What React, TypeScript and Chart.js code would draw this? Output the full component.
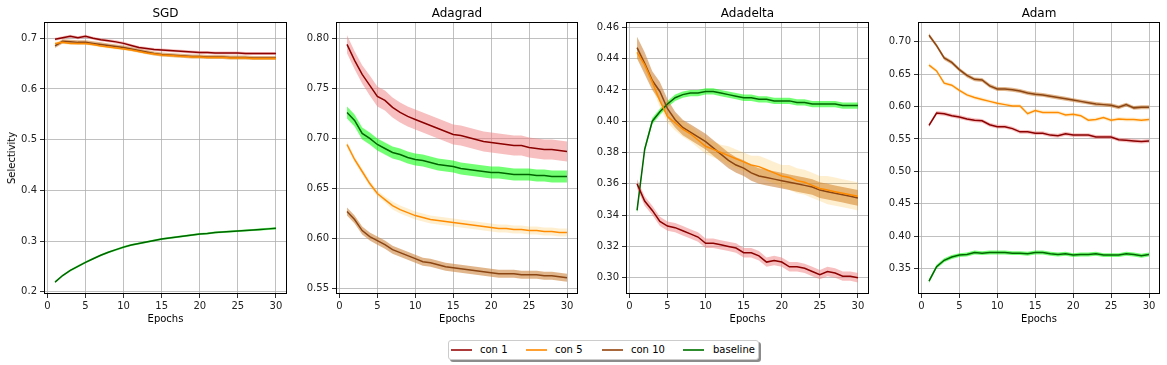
import React, { useEffect, useRef } from "react";
import { Chart, registerables } from "chart.js";

Chart.register(...registerables);

const EPOCHS = [1, 2, 3, 4, 5, 6, 7, 8, 9, 10, 11, 12, 13, 14, 15, 16, 17, 18, 19, 20, 21, 22, 23, 24, 25, 26, 27, 28, 29, 30];
const X_TICKS = [0, 5, 10, 15, 20, 25, 30];

// ---- SGD ----
const SGD_CON1 = [0.698, 0.701, 0.704, 0.701, 0.704, 0.700, 0.697, 0.695, 0.693, 0.690, 0.686, 0.682, 0.680, 0.678, 0.677, 0.676, 0.675, 0.674, 0.673, 0.672, 0.672, 0.671, 0.671, 0.671, 0.671, 0.670, 0.670, 0.670, 0.670, 0.670];
const SGD_CON1_STD = [0.003, 0.003, 0.003, 0.003, 0.003, 0.003, 0.003, 0.003, 0.003, 0.003, 0.003, 0.003, 0.003, 0.003, 0.003, 0.003, 0.003, 0.003, 0.003, 0.003, 0.003, 0.003, 0.003, 0.003, 0.003, 0.003, 0.003, 0.003, 0.003, 0.003];
const SGD_CON5 = [0.690, 0.692, 0.690, 0.690, 0.690, 0.688, 0.685, 0.683, 0.681, 0.679, 0.677, 0.674, 0.671, 0.669, 0.667, 0.666, 0.665, 0.664, 0.663, 0.663, 0.662, 0.662, 0.662, 0.661, 0.661, 0.661, 0.660, 0.660, 0.660, 0.660];
const SGD_CON5_STD = [0.003, 0.003, 0.003, 0.003, 0.003, 0.003, 0.003, 0.003, 0.003, 0.003, 0.003, 0.003, 0.003, 0.003, 0.003, 0.003, 0.003, 0.003, 0.003, 0.003, 0.003, 0.003, 0.003, 0.003, 0.003, 0.003, 0.003, 0.003, 0.003, 0.003];
const SGD_CON10 = [0.685, 0.694, 0.693, 0.692, 0.692, 0.690, 0.688, 0.686, 0.684, 0.682, 0.679, 0.676, 0.673, 0.670, 0.668, 0.667, 0.666, 0.665, 0.664, 0.664, 0.663, 0.663, 0.663, 0.662, 0.662, 0.662, 0.661, 0.661, 0.661, 0.661];
const SGD_CON10_STD = [0.004, 0.004, 0.004, 0.004, 0.004, 0.004, 0.004, 0.004, 0.004, 0.004, 0.004, 0.004, 0.004, 0.004, 0.004, 0.004, 0.004, 0.004, 0.004, 0.004, 0.004, 0.004, 0.004, 0.004, 0.004, 0.004, 0.004, 0.004, 0.004, 0.004];
const SGD_BASE = [0.219, 0.232, 0.242, 0.250, 0.258, 0.265, 0.272, 0.278, 0.283, 0.288, 0.292, 0.295, 0.298, 0.301, 0.304, 0.306, 0.308, 0.310, 0.312, 0.314, 0.315, 0.317, 0.318, 0.319, 0.320, 0.321, 0.322, 0.323, 0.324, 0.325];
const SGD_BASE_STD = [0.002, 0.002, 0.002, 0.002, 0.002, 0.002, 0.002, 0.002, 0.002, 0.002, 0.002, 0.002, 0.002, 0.002, 0.002, 0.002, 0.002, 0.002, 0.002, 0.002, 0.002, 0.002, 0.002, 0.002, 0.002, 0.002, 0.002, 0.002, 0.002, 0.002];

// ---- Adagrad ----
const ADAGRAD_CON1 = [0.794, 0.778, 0.764, 0.753, 0.742, 0.738, 0.731, 0.726, 0.722, 0.719, 0.716, 0.713, 0.710, 0.707, 0.704, 0.703, 0.701, 0.699, 0.697, 0.696, 0.695, 0.694, 0.693, 0.693, 0.691, 0.690, 0.689, 0.689, 0.688, 0.687];
const ADAGRAD_CON1_STD = [0.009, 0.009, 0.009, 0.010, 0.010, 0.010, 0.010, 0.010, 0.010, 0.010, 0.010, 0.010, 0.010, 0.010, 0.010, 0.010, 0.010, 0.010, 0.010, 0.010, 0.010, 0.010, 0.010, 0.010, 0.010, 0.010, 0.010, 0.010, 0.010, 0.010];
const ADAGRAD_CON5 = [0.694, 0.679, 0.667, 0.655, 0.645, 0.639, 0.633, 0.629, 0.626, 0.623, 0.621, 0.619, 0.618, 0.617, 0.616, 0.615, 0.614, 0.613, 0.612, 0.611, 0.610, 0.610, 0.609, 0.609, 0.608, 0.608, 0.607, 0.607, 0.606, 0.606];
const ADAGRAD_CON5_STD = [0.003, 0.003, 0.003, 0.003, 0.003, 0.003, 0.004, 0.004, 0.004, 0.004, 0.004, 0.004, 0.004, 0.004, 0.004, 0.004, 0.004, 0.004, 0.004, 0.004, 0.004, 0.004, 0.004, 0.004, 0.004, 0.004, 0.004, 0.004, 0.004, 0.004];
const ADAGRAD_CON10 = [0.627, 0.619, 0.608, 0.602, 0.598, 0.594, 0.589, 0.586, 0.583, 0.580, 0.577, 0.576, 0.574, 0.572, 0.571, 0.570, 0.569, 0.568, 0.567, 0.566, 0.565, 0.565, 0.565, 0.564, 0.564, 0.564, 0.563, 0.563, 0.562, 0.561];
const ADAGRAD_CON10_STD = [0.004, 0.004, 0.004, 0.004, 0.004, 0.004, 0.004, 0.004, 0.004, 0.004, 0.004, 0.004, 0.004, 0.004, 0.004, 0.004, 0.004, 0.004, 0.004, 0.004, 0.004, 0.004, 0.004, 0.004, 0.004, 0.004, 0.004, 0.004, 0.004, 0.004];
const ADAGRAD_BASE = [0.726, 0.718, 0.705, 0.700, 0.694, 0.690, 0.686, 0.684, 0.681, 0.679, 0.678, 0.676, 0.674, 0.673, 0.672, 0.670, 0.669, 0.668, 0.667, 0.666, 0.666, 0.665, 0.664, 0.664, 0.664, 0.663, 0.663, 0.662, 0.662, 0.662];
const ADAGRAD_BASE_STD = [0.006, 0.006, 0.006, 0.006, 0.006, 0.006, 0.006, 0.006, 0.006, 0.006, 0.006, 0.006, 0.006, 0.006, 0.006, 0.006, 0.006, 0.006, 0.006, 0.006, 0.006, 0.006, 0.006, 0.006, 0.006, 0.006, 0.006, 0.006, 0.006, 0.006];

// ---- Adadelta ----
const ADADELTA_CON1 = [0.360, 0.349, 0.343, 0.336, 0.333, 0.332, 0.330, 0.328, 0.326, 0.322, 0.322, 0.321, 0.320, 0.319, 0.316, 0.316, 0.314, 0.310, 0.311, 0.310, 0.307, 0.307, 0.306, 0.304, 0.302, 0.304, 0.303, 0.301, 0.301, 0.300];
const ADADELTA_CON1_STD = [0.003, 0.003, 0.003, 0.003, 0.003, 0.003, 0.003, 0.003, 0.003, 0.003, 0.003, 0.003, 0.003, 0.003, 0.003, 0.003, 0.003, 0.003, 0.003, 0.003, 0.003, 0.003, 0.003, 0.003, 0.003, 0.003, 0.003, 0.003, 0.003, 0.003];
const ADADELTA_CON5 = [0.444, 0.436, 0.425, 0.413, 0.403, 0.399, 0.395, 0.392, 0.388, 0.384, 0.382, 0.380, 0.378, 0.376, 0.374, 0.372, 0.371, 0.369, 0.367, 0.365, 0.364, 0.362, 0.361, 0.359, 0.357, 0.356, 0.355, 0.354, 0.353, 0.352];
const ADADELTA_CON5_STD = [0.004, 0.004, 0.004, 0.004, 0.004, 0.005, 0.005, 0.005, 0.005, 0.005, 0.005, 0.005, 0.006, 0.006, 0.006, 0.006, 0.007, 0.007, 0.007, 0.007, 0.008, 0.008, 0.008, 0.008, 0.008, 0.009, 0.009, 0.009, 0.009, 0.009];
const ADADELTA_CON10 = [0.447, 0.437, 0.426, 0.419, 0.408, 0.401, 0.396, 0.393, 0.390, 0.387, 0.383, 0.379, 0.375, 0.372, 0.370, 0.367, 0.365, 0.364, 0.363, 0.362, 0.361, 0.360, 0.359, 0.358, 0.356, 0.355, 0.354, 0.353, 0.352, 0.351];
const ADADELTA_CON10_STD = [0.007, 0.007, 0.006, 0.006, 0.006, 0.005, 0.005, 0.005, 0.005, 0.005, 0.005, 0.005, 0.005, 0.005, 0.005, 0.005, 0.005, 0.005, 0.005, 0.005, 0.005, 0.005, 0.005, 0.005, 0.005, 0.005, 0.005, 0.005, 0.005, 0.005];
const ADADELTA_BASE = [0.343, 0.382, 0.400, 0.406, 0.411, 0.415, 0.417, 0.418, 0.418, 0.419, 0.419, 0.418, 0.417, 0.416, 0.415, 0.415, 0.414, 0.414, 0.413, 0.413, 0.413, 0.412, 0.412, 0.411, 0.411, 0.411, 0.411, 0.410, 0.410, 0.410];
const ADADELTA_BASE_STD = [0.002, 0.002, 0.002, 0.002, 0.002, 0.002, 0.002, 0.002, 0.002, 0.002, 0.002, 0.002, 0.002, 0.002, 0.002, 0.002, 0.002, 0.002, 0.002, 0.002, 0.002, 0.002, 0.002, 0.002, 0.002, 0.002, 0.002, 0.002, 0.002, 0.002];

// ---- Adam ----
const ADAM_CON1 = [0.571, 0.590, 0.589, 0.586, 0.584, 0.581, 0.579, 0.578, 0.572, 0.569, 0.569, 0.566, 0.561, 0.561, 0.559, 0.559, 0.556, 0.555, 0.558, 0.556, 0.556, 0.556, 0.553, 0.553, 0.553, 0.549, 0.548, 0.547, 0.546, 0.547];
const ADAM_CON1_STD = [0.003, 0.003, 0.003, 0.003, 0.003, 0.003, 0.003, 0.003, 0.003, 0.003, 0.003, 0.003, 0.003, 0.003, 0.003, 0.003, 0.003, 0.003, 0.003, 0.003, 0.003, 0.003, 0.003, 0.003, 0.003, 0.003, 0.003, 0.003, 0.003, 0.003];
const ADAM_CON5 = [0.664, 0.655, 0.636, 0.633, 0.625, 0.618, 0.614, 0.611, 0.608, 0.605, 0.603, 0.601, 0.601, 0.589, 0.594, 0.591, 0.591, 0.591, 0.587, 0.588, 0.586, 0.579, 0.580, 0.583, 0.579, 0.581, 0.580, 0.580, 0.579, 0.580];
const ADAM_CON5_STD = [0.003, 0.003, 0.003, 0.003, 0.003, 0.003, 0.003, 0.003, 0.003, 0.003, 0.003, 0.003, 0.003, 0.003, 0.003, 0.003, 0.003, 0.003, 0.003, 0.003, 0.003, 0.003, 0.003, 0.003, 0.003, 0.003, 0.003, 0.003, 0.003, 0.003];
const ADAM_CON10 = [0.710, 0.694, 0.675, 0.668, 0.657, 0.648, 0.642, 0.641, 0.632, 0.627, 0.627, 0.626, 0.624, 0.621, 0.619, 0.618, 0.616, 0.614, 0.612, 0.610, 0.608, 0.606, 0.604, 0.603, 0.602, 0.599, 0.603, 0.598, 0.599, 0.599];
const ADAM_CON10_STD = [0.003, 0.003, 0.003, 0.003, 0.003, 0.003, 0.003, 0.003, 0.003, 0.003, 0.003, 0.003, 0.003, 0.003, 0.003, 0.003, 0.003, 0.003, 0.003, 0.003, 0.003, 0.003, 0.003, 0.003, 0.003, 0.003, 0.003, 0.003, 0.003, 0.003];
const ADAM_BASE = [0.331, 0.353, 0.363, 0.368, 0.371, 0.372, 0.375, 0.374, 0.375, 0.375, 0.375, 0.374, 0.374, 0.373, 0.375, 0.375, 0.373, 0.372, 0.373, 0.371, 0.372, 0.372, 0.373, 0.371, 0.371, 0.371, 0.373, 0.372, 0.370, 0.372];
const ADAM_BASE_STD = [0.003, 0.003, 0.003, 0.003, 0.003, 0.003, 0.003, 0.003, 0.003, 0.003, 0.003, 0.003, 0.003, 0.003, 0.003, 0.003, 0.003, 0.003, 0.003, 0.003, 0.003, 0.003, 0.003, 0.003, 0.003, 0.003, 0.003, 0.003, 0.003, 0.003];

const SGD_Y_TICKS = [0.2, 0.3, 0.4, 0.5, 0.6, 0.7];
const ADAGRAD_Y_TICKS = [0.55, 0.6, 0.65, 0.7, 0.75, 0.8];
const ADADELTA_Y_TICKS = [0.3, 0.32, 0.34, 0.36, 0.38, 0.4, 0.42, 0.44, 0.46];
const ADAM_Y_TICKS = [0.35, 0.4, 0.45, 0.5, 0.55, 0.6, 0.65, 0.7];

const SERIES_LABELS = ["con 1", "con 5", "con 10", "baseline"];

const LINE_COLORS = ["#8b0000", "#ff8c00", "#8b4513", "#006400"];
const BAND_COLORS = ["rgba(240,128,128,0.5)", "rgba(255,165,0,0.18)", "rgba(205,133,63,0.6)", "rgba(0,255,0,0.55)"];
const LEGEND_COLORS = ["#ad3a3a", "#ffa033", "#a8683c", "#2e8b2e"];

const FONT = "'DejaVu Sans', sans-serif";

type Panel = {
  title: string;
  left: number;
  right: number;
  yMin: number;
  yMax: number;
  yTicks: number[];
  decimals: number;
  means: number[][];
  stds: number[][];
};

const AX_TOP = 22;
const AX_BOTTOM = 294;
const Y_AXIS_W = 40;
const X_AXIS_H = 20;
const PAD_TOP = 10;
const PAD_RIGHT = 10;

const PANELS: Panel[] = [
  { title: "SGD", left: 44, right: 287, yMin: 0.1955, yMax: 0.7322, yTicks: SGD_Y_TICKS, decimals: 1,
    means: [SGD_CON1, SGD_CON5, SGD_CON10, SGD_BASE], stds: [SGD_CON1_STD, SGD_CON5_STD, SGD_CON10_STD, SGD_BASE_STD] },
  { title: "Adagrad", left: 336, right: 578, yMin: 0.5447, yMax: 0.8163, yTicks: ADAGRAD_Y_TICKS, decimals: 2,
    means: [ADAGRAD_CON1, ADAGRAD_CON5, ADAGRAD_CON10, ADAGRAD_BASE], stds: [ADAGRAD_CON1_STD, ADAGRAD_CON5_STD, ADAGRAD_CON10_STD, ADAGRAD_BASE_STD] },
  { title: "Adadelta", left: 626, right: 869, yMin: 0.2896, yMax: 0.4634, yTicks: ADADELTA_Y_TICKS, decimals: 2,
    means: [ADADELTA_CON1, ADADELTA_CON5, ADADELTA_CON10, ADADELTA_BASE], stds: [ADADELTA_CON1_STD, ADADELTA_CON5_STD, ADADELTA_CON10_STD, ADADELTA_BASE_STD] },
  { title: "Adam", left: 918, right: 1160, yMin: 0.311, yMax: 0.7304, yTicks: ADAM_Y_TICKS, decimals: 2,
    means: [ADAM_CON1, ADAM_CON5, ADAM_CON10, ADAM_BASE], stds: [ADAM_CON1_STD, ADAM_CON5_STD, ADAM_CON10_STD, ADAM_BASE_STD] },
];

const framePlugin = {
  id: "frame",
  afterDraw(chart: any) {
    const { ctx, chartArea: a } = chart;
    ctx.save();
    ctx.strokeStyle = "#000";
    ctx.lineWidth = 1;
    ctx.strokeRect(Math.round(a.left) + 0.5, Math.round(a.top) + 0.5, Math.round(a.right - a.left) - 1, Math.round(a.bottom - a.top) - 1);
    ctx.restore();
  },
};

function PanelChart({ p }: { p: Panel }) {
  const ref = useRef<HTMLCanvasElement>(null);
  const width = Y_AXIS_W + (p.right - p.left) + PAD_RIGHT;
  const height = PAD_TOP + (AX_BOTTOM - AX_TOP) + X_AXIS_H;

  useEffect(() => {
    if (!ref.current) return;
    const datasets: any[] = [];
    p.means.forEach((mean, si) => {
      const std = p.stds[si];
      const lowerIdx = datasets.length;
      datasets.push({
        data: EPOCHS.map((x, i) => ({ x, y: mean[i] - std[i] })),
        borderWidth: 0, pointRadius: 0, fill: false, order: 2,
        borderColor: "rgba(0,0,0,0)",
      });
      datasets.push({
        data: EPOCHS.map((x, i) => ({ x, y: mean[i] + std[i] })),
        borderWidth: 0, pointRadius: 0, fill: lowerIdx, order: 2,
        borderColor: "rgba(0,0,0,0)", backgroundColor: BAND_COLORS[si],
      });
    });
    p.means.forEach((mean, si) => {
      datasets.push({
        label: SERIES_LABELS[si],
        data: EPOCHS.map((x, i) => ({ x, y: mean[i] })),
        borderColor: LINE_COLORS[si], borderWidth: 1.5, pointRadius: 0, fill: false, order: 1,
      });
    });

    const chart = new Chart(ref.current, {
      type: "line",
      data: { datasets },
      plugins: [framePlugin],
      options: {
        animation: false,
        responsive: false,
        devicePixelRatio: 1,
        layout: { padding: { top: PAD_TOP, right: PAD_RIGHT, left: 0, bottom: 0 } },
        plugins: { legend: { display: false }, tooltip: { enabled: false }, title: { display: false } },
        scales: {
          x: {
            type: "linear", min: -0.45, max: 31.45,
            afterBuildTicks: (s: any) => { s.ticks = X_TICKS.map((v) => ({ value: v })); },
            afterFit: (s: any) => { s.height = X_AXIS_H; },
            ticks: { color: "#222", font: { family: FONT, size: 10 }, padding: 2, maxRotation: 0, callback: (v: any) => String(v) },
            grid: { color: "#b0b0b0", lineWidth: 0.8, tickColor: "#000", tickLength: 4, drawTicks: true },
            border: { display: false },
          },
          y: {
            type: "linear", min: p.yMin, max: p.yMax,
            afterBuildTicks: (s: any) => { s.ticks = p.yTicks.map((v) => ({ value: v })); },
            afterFit: (s: any) => { s.width = Y_AXIS_W; },
            ticks: { color: "#222", font: { family: FONT, size: 10 }, padding: 3, callback: (v: any) => Number(v).toFixed(p.decimals) },
            grid: { color: "#b0b0b0", lineWidth: 0.8, tickColor: "#000", tickLength: 4, drawTicks: true },
            border: { display: false },
          },
        },
      } as any,
    });
    return () => chart.destroy();
  }, []);

  return (
    <>
      <canvas
        ref={ref}
        width={width}
        height={height}
        style={{ position: "absolute", left: p.left - Y_AXIS_W, top: AX_TOP - PAD_TOP, width, height }}
      />
      <div style={{ position: "absolute", left: p.left, width: p.right - p.left, top: 6, textAlign: "center", fontFamily: FONT, fontSize: 12, lineHeight: "14px", color: "#000" }}>
        {p.title}
      </div>
      <div style={{ position: "absolute", left: p.left, width: p.right - p.left, top: 313, textAlign: "center", fontFamily: FONT, fontSize: 10, lineHeight: "12px", color: "#000" }}>
        Epochs
      </div>
    </>
  );
}

function Legend() {
  return (
    <div style={{
      position: "absolute", left: 448, top: 340, width: 309, height: 18,
      border: "1px solid #cccccc", borderRadius: 3, background: "#fff",
      boxShadow: "2px 2px 0 rgba(0,0,0,0.45)", fontFamily: FONT, fontSize: 10, color: "#000",
    }}>
      {SERIES_LABELS.map((lab, i) => {
        const lineX = [2, 77, 153, 234][i];
        const textX = [31, 106, 182, 264][i];
        return (
          <React.Fragment key={lab}>
            <div style={{ position: "absolute", left: lineX, top: 8, width: 21, height: 2, background: LEGEND_COLORS[i] }} />
            <div style={{ position: "absolute", left: textX, top: 3, lineHeight: "12px", whiteSpace: "nowrap" }}>{lab}</div>
          </React.Fragment>
        );
      })}
    </div>
  );
}

export default function App() {
  return (
    <div style={{ position: "absolute", left: 0, top: 0, width: 1167, height: 365, background: "#fff", overflow: "hidden" }}>
      {PANELS.map((p) => (
        <PanelChart key={p.title} p={p} />
      ))}
      <div style={{
        position: "absolute", left: 12, top: 158, transform: "translate(-50%, -50%) rotate(-90deg)",
        fontFamily: FONT, fontSize: 10, lineHeight: "12px", whiteSpace: "nowrap", color: "#000",
      }}>
        Selectivity
      </div>
      <Legend />
    </div>
  );
}
